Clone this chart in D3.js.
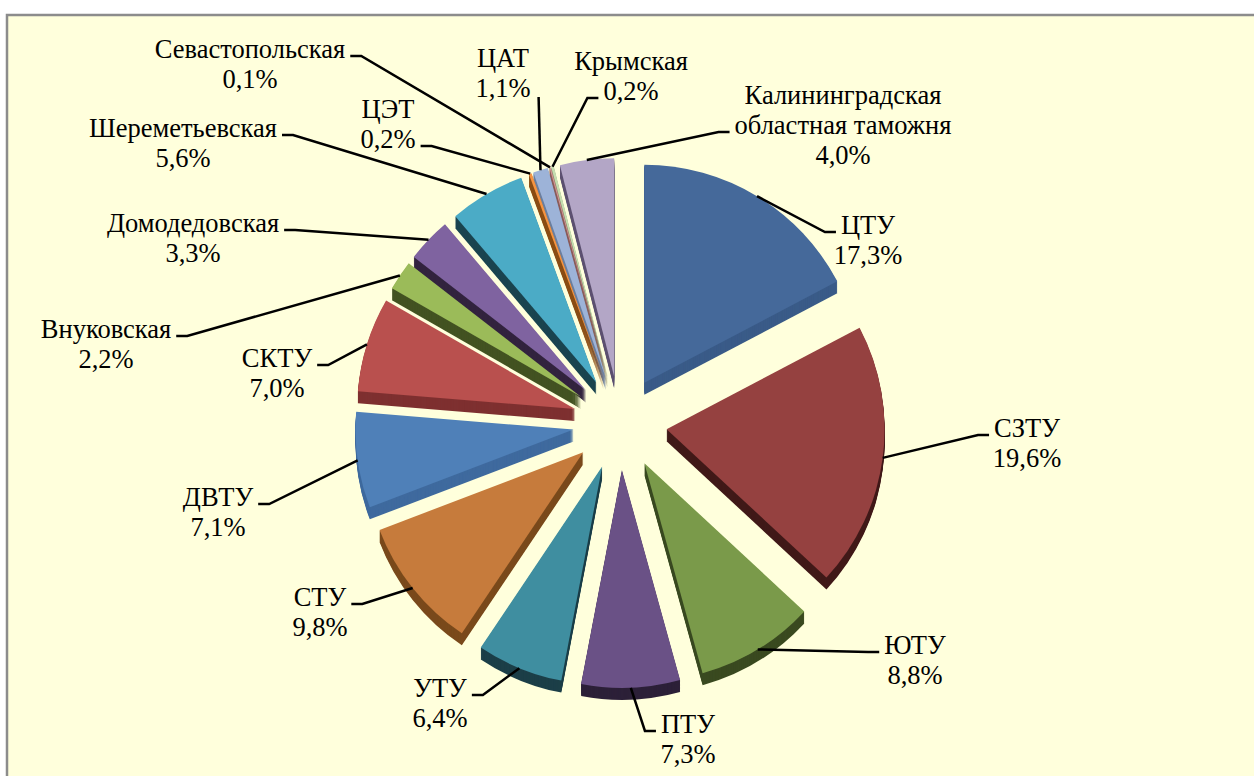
<!DOCTYPE html>
<html lang="ru">
<head>
  <meta charset="UTF-8">
  <title>Доли таможенных управлений</title>
  <script src="https://d3js.org/d3.v7.min.js"></script>
  <style>
    body { margin: 0; background: #fff; }
  </style>
</head>
<body>
  <div id="chart"></div>

  <script>
    // Data (shares, %), clockwise from 12 o'clock
    const names = ["ЦТУ", "СЗТУ", "ЮТУ", "ПТУ", "УТУ", "СТУ", "ДВТУ", "СКТУ",
      "Внуковская", "Домодедовская", "Шереметьевская", "ЦЭТ", "ЦАТ",
      "Севастопольская", "Крымская", "Калининградская\nобластная таможня"];
    const shares = [17.3, 19.6, 8.8, 7.3, 6.4, 9.8, 7.1, 7.0, 2.2, 3.3, 5.6, 0.2, 1.1, 0.1, 0.2, 4.0];

    // Styles
    const topColors = ["#45699a", "#954140", "#7a9a4a", "#6a5186", "#3f8ea0", "#c67b3c",
      "#4f80b8", "#b9504e", "#9bbb59", "#7f63a0", "#4babc6", "#f59442",
      "#9db3d8", "#d29391", "#c6ddb0", "#b3a6c6"];
    const sideColors = ["#3a5b88", "#411a19", "#3a4a20", "#2c2038", "#1c3f48", "#7a4a1c",
      "#3f6a9e", "#7e3030", "#435322", "#33243f", "#1b4550", "#8a4d14",
      "#6b7f9e", "#8a5c5a", "#7d8c6c", "#5d5070"];

    // Label placement (centre x, first baseline, which side the leader attaches, row)
    const labelLayout = [
      {x: 868, y: 234, side: "R", row: 0},
      {x: 1027, y: 437, side: "R", row: 0},
      {x: 915, y: 654, side: "R", row: 0},
      {x: 688, y: 733, side: "R", row: 0},
      {x: 440, y: 697, side: "L", row: 0},
      {x: 320, y: 606, side: "L", row: 0},
      {x: 218, y: 506, side: "L", row: 0},
      {x: 277, y: 367, side: "L", row: 0},
      {x: 106, y: 338, side: "L", row: 0},
      {x: 193, y: 232, side: "L", row: 0},
      {x: 183, y: 137, side: "L", row: 0},
      {x: 388, y: 118, side: "L", row: 1},
      {x: 503, y: 67, side: "N", row: 1},
      {x: 250, y: 58, side: "L", row: 0},
      {x: 631, y: 70, side: "R", row: 1},
      {x: 843, y: 104, side: "R", row: 1}
    ];

    const width = 1254, height = 776;
    const cx = 620, cy = 423;      // pie centre
    const radius = 218;
    const explode = 47;
    const ky = 1;                  // vertical squash of the top face
    const depth = 12;              // thickness of the disc
    const lineH = 30;
    const fontFamily = "'Liberation Serif', 'Times New Roman', serif";

    const fmt = v => d3.format(".1f")(v).replace(".", ",") + "%";

    const svg = d3.select("#chart").append("svg")
        .attr("width", width)
        .attr("height", height);

    // Plot area
    svg.append("rect")
        .attr("x", 7).attr("y", 15)
        .attr("width", width + 20).attr("height", height + 20)
        .attr("fill", "#ffffdc")
        .attr("stroke", "#8c8c8c")
        .attr("stroke-width", 2.5);

    const pie = d3.pie().sort(null).value(d => d);
    const arcs = pie(shares).map((a, i) => {
      const mid = (a.startAngle + a.endAngle) / 2;
      const ox = cx + explode * Math.sin(mid);
      const oy = cy - explode * Math.cos(mid) * ky;
      return {
        ...a, i, mid, ox, oy,
        ax: ox + radius * Math.sin(mid),
        ay: oy - radius * Math.cos(mid) * ky
      };
    });

    const arc = d3.arc().innerRadius(0).outerRadius(radius);

    // Back slices first
    const order = arcs.slice().sort((a, b) => a.oy - b.oy);

    const slice = svg.append("g")
      .selectAll("g")
      .data(order)
      .join("g")
        .attr("transform", d => `translate(${d.ox},${d.oy})`);

    // Extruded side: stacked copies shifted down
    slice.each(function(d) {
      const g = d3.select(this);
      g.selectAll("path.side")
        .data(d3.range(depth, 0, -1))
        .join("path")
          .attr("class", "side")
          .attr("transform", k => `translate(0,${k}) scale(1,${ky})`)
          .attr("d", arc(d))
          .attr("fill", sideColors[d.i]);
      g.append("path")
          .attr("class", "top")
          .attr("transform", `scale(1,${ky})`)
          .attr("d", arc(d))
          .attr("fill", topColors[d.i]);
    });

    // Labels
    const labels = svg.append("g")
      .selectAll("text")
      .data(arcs)
      .join("text")
        .attr("font-family", fontFamily)
        .attr("font-size", 26.5)
        .attr("fill", "#000")
        .attr("text-anchor", "middle");

    labels.each(function(d) {
      const t = d3.select(this);
      const lay = labelLayout[d.i];
      const lines = names[d.i].split("\n").concat(fmt(shares[d.i]));
      lines.forEach((s, k) => {
        t.append("tspan")
          .attr("x", lay.x)
          .attr("y", lay.y + k * lineH)
          .text(s);
      });
    });

    // Leader lines
    const leaders = [];
    labels.each(function(d) {
      const lay = labelLayout[d.i];
      const span = d3.select(this).selectAll("tspan").nodes()[lay.row];
      const w = span.getComputedTextLength();
      const by = lay.y + lay.row * lineH;
      let pts;
      if (lay.side === "L") {
        const x0 = lay.x + w / 2 + 5;
        pts = [[d.ax, d.ay], [x0 + 11, by - 2], [x0, by - 2]];
      } else if (lay.side === "R") {
        const x0 = lay.x - w / 2 - 5;
        pts = [[d.ax, d.ay], [x0 - 11, by - 2], [x0, by - 2]];
      } else {
        pts = [[d.ax, d.ay], [lay.x + w / 2 + 8, by]];
      }
      leaders.push(pts);
    });

    svg.append("g")
        .attr("fill", "none")
        .attr("stroke", "#000")
        .attr("stroke-width", 2.5)
      .selectAll("path")
      .data(leaders)
      .join("path")
        .attr("d", d3.line());
  </script>
</body>
</html>
